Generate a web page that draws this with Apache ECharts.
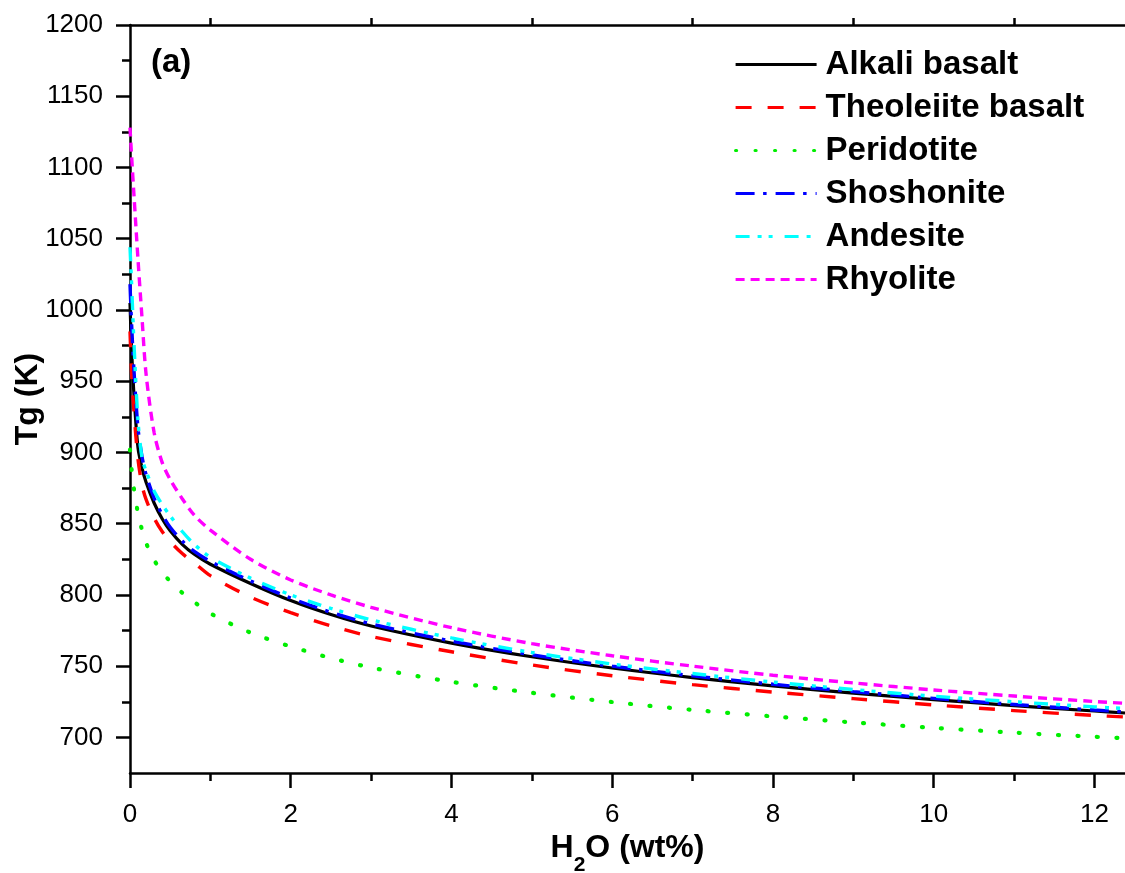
<!DOCTYPE html>
<html>
<head>
<meta charset="utf-8">
<script src="https://cdn.jsdelivr.net/npm/echarts@6/dist/echarts.min.js"></script>
<style>
html,body{margin:0;padding:0;background:#fff;}
#chart{width:1125px;height:873px;}
</style>
</head>
<body>
<div id="chart"></div>
<script>
// ---- data ----
const h2o = [0, 0.02, 0.05, 0.1, 0.15, 0.2, 0.3, 0.4, 0.5, 0.65, 0.8, 1, 1.5, 2, 2.5, 3, 4, 5, 6, 7, 8, 9, 10, 11, 12, 12.38];

const alkaliBasalt     = [1005, 972, 940, 903, 889, 879, 864.5, 853.5, 845, 835.5, 828.5, 821.5, 808, 796, 786.2, 778.2, 766.2, 756.6, 748.7, 742, 736.2, 731.1, 726.5, 722.3, 718.5, 717.1];
const theoleiiteBasalt = [985, 955, 928, 895, 877, 867, 854, 844.5, 837.5, 829, 822.5, 813.5, 798.5, 787.5, 778.3, 770.8, 760.1, 750.8, 743.3, 737, 731.8, 727.2, 722.8, 718.8, 715.4, 714.3];
const peridotite       = [902, 888, 874, 857, 845.5, 836.5, 824.5, 816, 809.5, 801.5, 795, 787, 773.5, 763.8, 755.7, 749, 739, 731.3, 724.8, 719.3, 714.7, 710.5, 706.7, 703.3, 700.4, 699.4];
const shoshonite       = [1018, 990, 957, 917, 897, 884.5, 868, 856.5, 847.5, 837.8, 830.5, 823.5, 809.8, 797.8, 787.8, 779.7, 767.6, 757.9, 750, 743.2, 737.3, 732.1, 727.4, 723.1, 719.2, 717.8];
const andesite         = [1044, 1018, 976, 922, 896, 887, 873, 863.5, 855.5, 844.5, 835.5, 826.5, 811.8, 800, 790.5, 782.5, 769.8, 759.6, 751.5, 744.8, 738.8, 733.6, 728.9, 725, 721.4, 720.3];
const rhyolite         = [1128, 1108, 1080, 1035, 994, 955, 914, 893, 881, 867.5, 856, 845.5, 825, 810.5, 800, 791.3, 777, 765.8, 757.3, 750, 743.6, 738.2, 733.3, 729, 725.2, 723.9];

const seriesNames = ['Alkali basalt', 'Theoleiite basalt', 'Peridotite', 'Shoshonite', 'Andesite', 'Rhyolite'];
const seriesValues = [alkaliBasalt, theoleiiteBasalt, peridotite, shoshonite, andesite, rhyolite];

const xMajorTicks = [0, 2, 4, 6, 8, 10, 12];
const xMinorTicks = [1, 3, 5, 7, 9, 11];
const yMajorTicks = [700, 750, 800, 850, 900, 950, 1000, 1050, 1100, 1150, 1200];
const yMinorTicks = [725, 775, 825, 875, 925, 975, 1025, 1075, 1125, 1175];

// ---- styles ----
const FONT = 'Liberation Sans, Arial, sans-serif';
const colors = ['#000000', '#ff0000', '#00ee00', '#0000ff', '#00ffff', '#ff00ff'];
const dashes = ['solid', [16, 16], [1, 18.5], [19, 8.5, 3.5, 9], [14, 8, 4, 7, 4, 12], [9, 6]];
const caps = ['butt', 'butt', 'round', 'butt', 'butt', 'butt'];
const widths = [3.2, 3.4, 4.2, 3.4, 3.4, 3.4];

const X_MIN = 0, X_MAX = 12.38, Y_MIN = 675, Y_MAX = 1200;
const axisLineStyle = { color: '#000', width: 2.5 };

const series = seriesNames.map((name, i) => ({
  name: name,
  type: 'line',
  data: h2o.map((x, j) => [x, seriesValues[i][j]]),
  symbol: 'none',
  smooth: 0.3,
  color: colors[i],
  itemStyle: { color: colors[i] },
  lineStyle: { color: colors[i], width: widths[i], type: dashes[i], cap: caps[i] },
  z: 2 + i,
  animation: false
}));

const chart = echarts.init(document.getElementById('chart'), null, { renderer: 'canvas' });
chart.setOption({
  backgroundColor: '#ffffff',
  animation: false,
  grid: { left: 130, right: 0, top: 25, bottom: 100, containLabel: false, outerBoundsMode: 'none' },
  legend: {
    orient: 'vertical',
    left: 734,
    top: 48,
    padding: 0,
    itemWidth: 81,
    itemHeight: 14,
    itemGap: 10,
    data: seriesNames,
    itemStyle: { opacity: 0, borderWidth: 0 },
    lineStyle: { width: 3.2 },
    textStyle: { fontFamily: FONT, fontSize: 33, fontWeight: 'bold', color: '#000', lineHeight: 33, padding: [0, 0, 0, 4] }
  },
  graphic: [{
    type: 'text',
    left: 151,
    top: 46,
    style: { text: '(a)', font: 'bold 33px ' + FONT, fill: '#000' }
  }],
  xAxis: [{
    type: 'value', position: 'bottom', min: X_MIN, max: X_MAX,
    axisLine: { show: true, onZero: false, lineStyle: axisLineStyle },
    axisTick: { show: true, inside: false, length: 15, lineStyle: { color: '#000', width: 2.5 }, customValues: xMajorTicks },
    axisLabel: { show: true, margin: 29, fontSize: 26, fontFamily: FONT, color: '#000', customValues: xMajorTicks, formatter: v => String(v) },
    splitLine: { show: false },
    name: '{a|H}{b|2}{a|O (wt%)}',
    nameLocation: 'middle',
    nameGap: 47,
    nameMoveOverlap: false,
    nameTextStyle: {
      rich: {
        a: { fontFamily: FONT, fontSize: 32, fontWeight: 'bold', color: '#000', lineHeight: 56 },
        b: { fontFamily: FONT, fontSize: 21, fontWeight: 'bold', color: '#000', lineHeight: 21, verticalAlign: 'bottom' }
      }
    }
  }, {
    type: 'value', position: 'bottom', min: X_MIN, max: X_MAX,
    axisLine: { show: false, onZero: false },
    axisTick: { show: true, length: 8, lineStyle: { color: '#000', width: 2.5 }, customValues: xMinorTicks },
    axisLabel: { show: false },
    splitLine: { show: false }
  }, {
    type: 'value', position: 'top', min: X_MIN, max: X_MAX,
    axisLine: { show: true, onZero: false, lineStyle: axisLineStyle },
    axisTick: { show: true, length: 7, lineStyle: { color: '#000', width: 2.5 }, customValues: xMinorTicks },
    axisLabel: { show: false },
    splitLine: { show: false }
  }],
  yAxis: [{
    type: 'value', position: 'left', min: Y_MIN, max: Y_MAX,
    axisLine: { show: true, onZero: false, lineStyle: axisLineStyle },
    axisTick: { show: true, length: 14, lineStyle: { color: '#000', width: 2.5 }, customValues: yMajorTicks },
    axisLabel: { show: true, margin: 27, fontSize: 26, fontFamily: FONT, color: '#000', customValues: yMajorTicks, formatter: v => String(v) },
    splitLine: { show: false },
    name: 'Tg (K)',
    nameLocation: 'middle',
    nameGap: 86,
    nameMoveOverlap: false,
    nameTextStyle: { fontFamily: FONT, fontSize: 32, fontWeight: 'bold', color: '#000' }
  }, {
    type: 'value', position: 'left', min: Y_MIN, max: Y_MAX,
    axisLine: { show: false, onZero: false },
    axisTick: { show: true, length: 8, lineStyle: { color: '#000', width: 2.5 }, customValues: yMinorTicks },
    axisLabel: { show: false },
    splitLine: { show: false }
  }],
  series: series
});
</script>
</body>
</html>
